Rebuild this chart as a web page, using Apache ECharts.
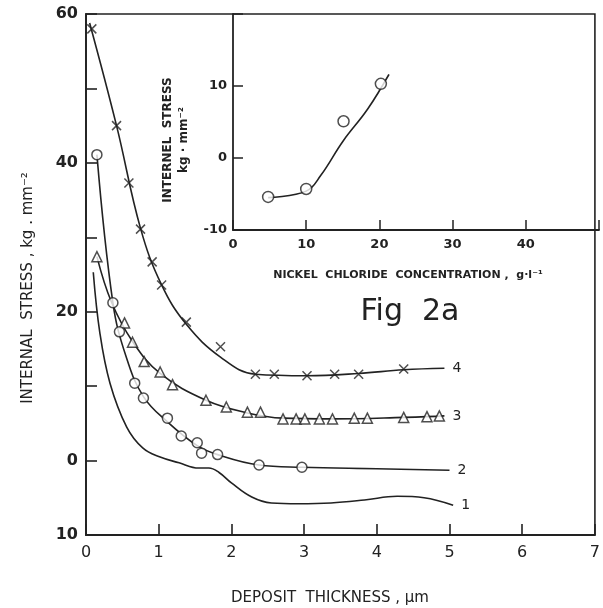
<!DOCTYPE html>
<html>
<head>
<meta charset="utf-8">
<script src="https://cdn.jsdelivr.net/npm/echarts@6/dist/echarts.min.js"></script>
<style>
  html, body { margin: 0; background: #fff; }
  #chart { width: 603px; height: 608px; }
</style>
</head>
<body>
<div id="chart"></div>
<script>
// main plot: internal stress vs deposit thickness (um)
const curve4Points = [[0.08, 58.0], [0.42, 45.0], [0.59, 37.3], [0.75, 31.1], [0.91, 26.7], [1.04, 23.6], [1.38, 18.6], [1.85, 15.3], [2.33, 11.6], [2.59, 11.6], [3.04, 11.4], [3.42, 11.6], [3.75, 11.6], [4.37, 12.3]];
const curve4Line = [[0.05, 58.8], [0.42, 45.0], [0.75, 31.2], [1.04, 23.6], [1.38, 18.3], [1.85, 13.9], [2.33, 11.6], [3.04, 11.4], [3.75, 11.7], [4.37, 12.2], [4.93, 12.4]];

const curve3Points = [[0.15, 27.4], [0.53, 18.5], [0.64, 15.9], [0.80, 13.3], [1.02, 11.9], [1.19, 10.2], [1.65, 8.1], [1.93, 7.2], [2.22, 6.5], [2.40, 6.5], [2.71, 5.6], [2.89, 5.6], [3.01, 5.6], [3.21, 5.6], [3.39, 5.6], [3.69, 5.7], [3.87, 5.7], [4.37, 5.8], [4.69, 5.9], [4.86, 6.0]];
const curve3Line = [[0.15, 27.4], [0.35, 21.3], [0.64, 16.0], [1.02, 11.7], [1.65, 8.1], [2.22, 6.4], [2.71, 5.7], [3.39, 5.6], [4.37, 5.8], [4.93, 6.0]];

const curve2Points = [[0.15, 41.1], [0.37, 21.2], [0.46, 17.3], [0.67, 10.4], [0.79, 8.4], [1.12, 5.7], [1.31, 3.3], [1.53, 2.4], [1.59, 1.0], [1.81, 0.8], [2.38, -0.6], [2.97, -0.9]];
const curve2Line = [[0.15, 41.1], [0.37, 21.2], [0.55, 14.0], [0.79, 8.6], [1.12, 5.2], [1.53, 2.0], [1.81, 0.8], [2.38, -0.6], [2.97, -0.9], [4.0, -1.1], [5.0, -1.3]];

const curve1Line = [[0.10, 25.3], [0.19, 17.2], [0.33, 10.4], [0.56, 4.5], [0.78, 1.7], [1.01, 0.5], [1.28, -0.3], [1.55, -1.0], [1.69, -1.0], [1.83, -1.6], [2.00, -3.0], [2.28, -4.9], [2.55, -5.7], [2.92, -5.8], [3.37, -5.7], [3.83, -5.3], [4.28, -4.8], [4.65, -5.0], [5.05, -6.0]];

const xTicks = [0, 1, 2, 3, 4, 5, 6, 7];
const yTickLabels = { '60': '60', '40': '40', '20': '20', '0': '0', '-10': '10' };

// inset: internal stress vs nickel chloride concentration
const insetPoints = [[4.8, -5.4], [10, -4.3], [15.1, 5.1], [20.2, 10.3]];
const insetLine = [[4.8, -5.5], [10, -4.6], [12, -2.4], [15, 2.3], [18.4, 6.8], [21.3, 11.6]];
const insetYLabels = { '-10': '-10', '0': '0', '10': '10' };

const ink = '#222';
const font = 'DejaVu Sans';
const crossSymbol = 'path://M0,0L10,10M10,0L0,10';

function curve(data, label, xi) {
    return {
        type: 'line', xAxisIndex: xi, yAxisIndex: xi, data: data,
        smooth: 0.4, showSymbol: false,
        lineStyle: { color: ink, width: 1.6 },
        endLabel: label ? { show: true, formatter: label, distance: 8, color: ink, fontFamily: font, fontSize: 14 } : { show: false },
        silent: true, z: 2
    };
}
function points(data, symbol, size, xi) {
    return {
        type: 'scatter', xAxisIndex: xi, yAxisIndex: xi, data: data,
        symbol: symbol, symbolSize: size,
        itemStyle: { color: symbol === crossSymbol ? 'transparent' : '#fff', borderColor: ink, borderWidth: 1.5 },
        z: 3
    };
}

const axisCommon = {
    axisLine: { show: true, onZero: false, lineStyle: { color: ink, width: 1.8 } },
    axisTick: { show: true, inside: true, length: 11, lineStyle: { color: ink, width: 1.6 } },
    splitLine: { show: false }
};

const chart = echarts.init(document.getElementById('chart'));
chart.setOption({
    backgroundColor: '#fff',
    animation: false,
    grid: [
        { left: 86, right: 3, top: 14, bottom: 73, show: true, borderColor: ink, borderWidth: 1.6, backgroundColor: 'transparent' },
        { left: 233, right: 4, top: 14, bottom: 378, show: false }
    ],
    xAxis: [
        Object.assign({}, axisCommon, {
            gridIndex: 0, type: 'value', min: 0, max: 7, interval: 1,
            axisLabel: { color: ink, fontFamily: font, fontSize: 16, margin: 10, formatter: v => xTicks.includes(v) ? String(v) : '' }
        }),
        Object.assign({}, axisCommon, {
            gridIndex: 1, type: 'value', min: 0, max: 50, interval: 10,
            axisTick: { show: true, inside: true, length: 10, lineStyle: { color: ink, width: 1.5 } },
            axisLabel: { color: ink, fontFamily: font, fontSize: 13, fontWeight: 'bold', margin: 8, formatter: v => v < 50 ? String(v) : '' }
        })
    ],
    yAxis: [
        Object.assign({}, axisCommon, {
            gridIndex: 0, type: 'value', min: -10, max: 60, interval: 10,
            axisLabel: { color: ink, fontFamily: font, fontSize: 16, fontWeight: 'bold', margin: 8, formatter: v => yTickLabels[String(v)] || '' }
        }),
        Object.assign({}, axisCommon, {
            gridIndex: 1, type: 'value', min: -10, max: 20, interval: 10,
            axisTick: { show: true, inside: true, length: 10, lineStyle: { color: ink, width: 1.5 } },
            axisLabel: { color: ink, fontFamily: font, fontSize: 13, fontWeight: 'bold', margin: 6, formatter: v => insetYLabels[String(v)] || '' }
        })
    ],
    series: [
        curve(curve4Line, '4', 0),
        points(curve4Points, crossSymbol, 9, 0),
        curve(curve3Line, '3', 0),
        points(curve3Points, 'triangle', 10, 0),
        curve(curve2Line, '2', 0),
        points(curve2Points, 'circle', 10, 0),
        curve(curve1Line, '1', 0),
        curve(insetLine, null, 1),
        points(insetPoints, 'circle', 11, 1)
    ],
    graphic: [
        {
            type: 'text', x: 28, y: 288, rotation: Math.PI / 2,
            style: { text: 'INTERNAL  STRESS , kg . mm⁻²', fill: ink, font: '15px "DejaVu Sans"', align: 'center', verticalAlign: 'middle' }
        },
        {
            type: 'text', x: 330, y: 598,
            style: { text: 'DEPOSIT  THICKNESS , μm', fill: ink, font: '15px "DejaVu Sans"', align: 'center', verticalAlign: 'middle' }
        },
        {
            type: 'text', x: 176, y: 140, rotation: Math.PI / 2,
            style: { text: 'INTERNEL  STRESS\nkg · mm⁻²', fill: ink, font: 'bold 12px "DejaVu Sans"', align: 'center', verticalAlign: 'middle', lineHeight: 16 }
        },
        {
            type: 'text', x: 408, y: 275,
            style: { text: 'NICKEL  CHLORIDE  CONCENTRATION ,  g·l⁻¹', fill: ink, font: 'bold 11px "DejaVu Sans"', align: 'center', verticalAlign: 'middle' }
        },
        {
            type: 'text', x: 410, y: 312,
            style: { text: 'Fig  2a', fill: ink, font: '30px "DejaVu Sans"', align: 'center', verticalAlign: 'middle' }
        }
    ]
});
</script>
</body>
</html>
